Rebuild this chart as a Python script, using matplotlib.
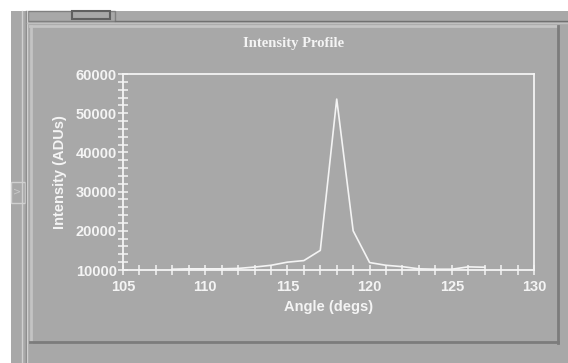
import matplotlib
matplotlib.use('Agg')
import matplotlib.pyplot as plt
from matplotlib.patches import Rectangle
from matplotlib.ticker import MultipleLocator

# values
angle = [108, 109, 110, 111, 112, 113, 114, 115, 116, 117, 118, 119, 120,
         121, 122, 123, 124, 125, 126, 127]
intensity = [10200, 10300, 10300, 10300, 10400, 10750, 11200, 12000, 12400,
             15000, 53600, 20000, 11900, 11200, 10850, 10300, 10200, 10200,
             10800, 10700]
x_ticks = [105, 110, 115, 120, 125, 130]
y_ticks = [10000, 20000, 30000, 40000, 50000, 60000]

bg = '#a8a8a8'
fg = '#f4f4f4'
W, H = 568, 363

fig = plt.figure(figsize=(W / 100, H / 100), dpi=100, facecolor=bg)

# window chrome, drawn in pixel coords on a background axes
deco = fig.add_axes([0, 0, 1, 1], zorder=0)
deco.set_xlim(0, W)
deco.set_ylim(H, 0)
deco.axis('off')
deco.add_patch(Rectangle((0, 0), W, 11, color='white', lw=0))
deco.add_patch(Rectangle((0, 0), 11, H, color='white', lw=0))
deco.plot([22, 22], [11, H], color='#d0d0d0', lw=1)
deco.plot([25.5, 25.5], [11, H], color='#808080', lw=1)
deco.plot([27, 27], [11, H], color='#d0d0d0', lw=1)
# small arrow box on the left edge
deco.add_patch(Rectangle((11, 182), 14, 21, fc=bg, ec='#d0d0d0', lw=1))
deco.text(17, 192, '>', color='#c8c8c8', fontsize=7, ha='center', va='center')
# tab buttons at the top
deco.add_patch(Rectangle((28, 11), 87, 10, fc=bg, ec='#808080', lw=1))
deco.add_patch(Rectangle((72, 11), 38, 8, fc=bg, ec='#606060', lw=1.5))
deco.plot([115, W], [21, 21], color='#707070', lw=1)
deco.plot([27, W], [23, 23], color='#c0c0c0', lw=1)
# raised panel
deco.plot([30, 556], [26, 26], color='#c4c4c4', lw=2)
deco.plot([31, 31], [26, 342], color='#c4c4c4', lw=2)
deco.plot([558, 558], [26, 343], color='#7c7c7c', lw=2)
deco.plot([30, 558], [342, 342], color='#7c7c7c', lw=2)

ax = fig.add_axes([123 / W, (H - 270) / H, (534 - 123) / W, (270 - 74) / H],
                  zorder=1)
ax.set_facecolor('none')
ax.plot(angle, intensity, color=fg, lw=1.2)
ax.set_xlim(105, 130)
ax.set_ylim(10000, 60000)

for side in ['left', 'bottom', 'top', 'right']:
    ax.spines[side].set_color(fg)
    ax.spines[side].set_linewidth(1.3)

tick_font = {'family': 'Liberation Sans', 'weight': 'bold', 'size': 10.5}
ax.set_xticks(x_ticks)
ax.set_yticks(y_ticks)
ax.set_xticklabels([str(v) for v in x_ticks], fontdict=tick_font, color=fg)
ax.set_yticklabels([str(v) for v in y_ticks], fontdict=tick_font, color=fg)
ax.xaxis.set_minor_locator(MultipleLocator(1))
ax.yaxis.set_minor_locator(MultipleLocator(2000))
ax.tick_params(which='both', direction='inout', length=7, width=1.1,
               color=fg, top=False, right=False)
ax.tick_params(axis='x', which='major', pad=4)
ax.tick_params(axis='y', which='major', pad=1)

ax.set_xlabel('Angle (degs)', fontdict=tick_font, color=fg, labelpad=4)
ax.set_ylabel('Intensity (ADUs)', fontdict=tick_font, color=fg, labelpad=6)

fig.text(294 / W, 1 - 44 / H, 'Intensity Profile', color=fg,
         family='Liberation Serif', weight='bold', fontsize=10.5,
         ha='center', va='center')

fig.savefig('out.png', dpi=100, facecolor=bg)
